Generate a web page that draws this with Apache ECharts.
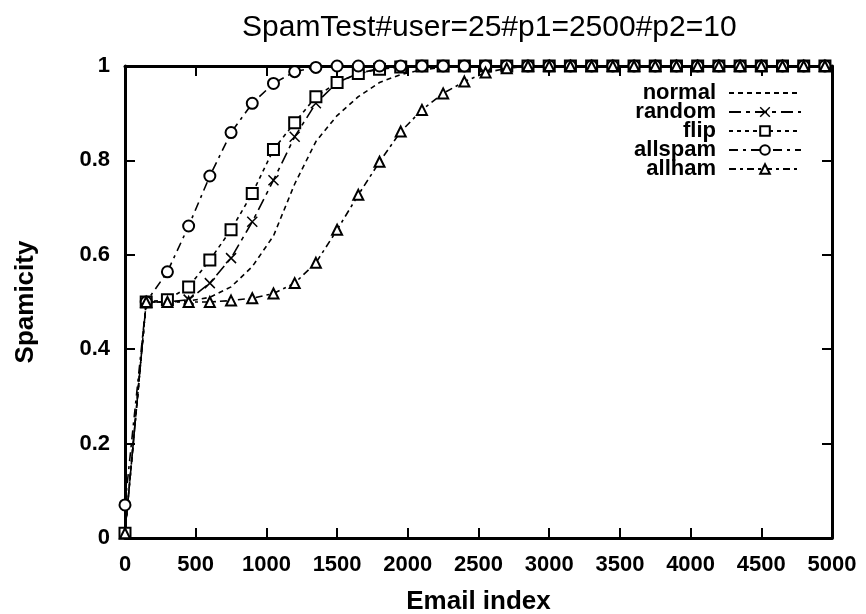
<!DOCTYPE html>
<html>
<head>
<meta charset="utf-8">
<script src="https://cdn.jsdelivr.net/npm/echarts@6/dist/echarts.min.js"></script>
<style>
  html, body { margin: 0; padding: 0; background: #fff; }
  #chart { width: 866px; height: 614px; }
</style>
</head>
<body>
<div id="chart"></div>
<script>
// Email index at which each spamicity sample was taken
const emailIndex = [0, 150, 300, 450, 600, 750, 900, 1050, 1200, 1350, 1500, 1650,
  1800, 1950, 2100, 2250, 2400, 2550, 2700, 2850, 3000, 3150, 3300, 3450, 3600,
  3750, 3900, 4050, 4200, 4350, 4500, 4650, 4800, 4950];

const normal = [0.01, 0.5, 0.5, 0.502, 0.51, 0.532, 0.575, 0.64, 0.75, 0.84, 0.895,
  0.935, 0.965, 0.982, 0.992, 0.997, 1, 1, 1, 1, 1, 1, 1, 1, 1, 1, 1, 1, 1, 1, 1, 1, 1, 1];
const random = [0.01, 0.5, 0.5, 0.505, 0.54, 0.593, 0.67, 0.758, 0.85, 0.921, 0.965,
  0.984, 0.995, 1, 1, 1, 1, 1, 1, 1, 1, 1, 1, 1, 1, 1, 1, 1, 1, 1, 1, 1, 1, 1];
const flip = [0.01, 0.5, 0.505, 0.532, 0.589, 0.653, 0.73, 0.823, 0.88, 0.935, 0.965,
  0.984, 0.993, 0.998, 1, 1, 1, 1, 1, 1, 1, 1, 1, 1, 1, 1, 1, 1, 1, 1, 1, 1, 1, 1];
const allspam = [0.07, 0.5, 0.564, 0.661, 0.767, 0.859, 0.921, 0.963, 0.988, 0.997, 1,
  1, 1, 1, 1, 1, 1, 1, 1, 1, 1, 1, 1, 1, 1, 1, 1, 1, 1, 1, 1, 1, 1, 1];
const allham = [0.01, 0.5, 0.5, 0.5, 0.5, 0.503, 0.508, 0.518, 0.54, 0.583, 0.653,
  0.727, 0.797, 0.861, 0.907, 0.942, 0.967, 0.986, 0.995, 1, 1, 1, 1, 1, 1, 1, 1, 1,
  1, 1, 1, 1, 1, 1];

const FONT = '"Liberation Sans", Arial, Helvetica, sans-serif';
const INK = '#000';

function pairs(values) {
  return emailIndex.map((x, i) => [x, values[i]]);
}

const crossPath = 'path://M0,0L10,10M10,0L0,10';

const seriesDefs = [
  { name: 'normal', data: normal, symbol: 'none', dash: [5, 4] },
  { name: 'random', data: random, symbol: crossPath, size: 10, dash: [12, 5, 4, 5] },
  { name: 'flip', data: flip, symbol: 'emptyRect', size: 11, dash: [4, 4] },
  { name: 'allspam', data: allspam, symbol: 'emptyCircle', size: 11, dash: [9, 5, 3, 5] },
  { name: 'allham', data: allham, symbol: 'emptyTriangle', size: 10, dash: [7, 4, 3, 4] }
];

const legendTops = [82, 101, 120, 139, 158];

function axisLine() { return { onZero: false, lineStyle: { color: INK, width: 3 } }; }
function axisTick() { return { show: true, inside: true, length: 10, lineStyle: { color: INK, width: 2 } }; }
function tickLabel(margin) {
  return {
    margin: margin, color: INK, fontSize: 22, fontWeight: 'bold', fontFamily: FONT,
    formatter: v => String(v)
  };
}

const option = {
  backgroundColor: '#fff',
  animation: false,
  title: {
    text: 'SpamTest#user=25#p1=2500#p2=10',
    left: 237,
    top: 8,
    textStyle: { color: INK, fontSize: 30, fontWeight: 'normal', fontFamily: FONT }
  },
  legend: seriesDefs.map((s, i) => ({
    data: [s.name],
    orient: 'vertical',
    align: 'right',
    right: 64,
    top: legendTops[i],
    itemWidth: 72,
    itemHeight: 12,
    padding: 0,
    selectedMode: false,
    itemStyle: s.symbol === 'none'
      ? { opacity: 0 }
      : { color: INK, borderColor: INK, borderWidth: 1.4 },
    textStyle: { color: INK, fontSize: 22, fontWeight: 'bold', fontFamily: FONT, padding: [0, 8, 0, 0] }
  })),
  grid: { left: 125, right: 34, top: 66, bottom: 76, containLabel: false, outerBoundsMode: 'none' },
  xAxis: [
    {
      type: 'value', min: 0, max: 5000, interval: 500, position: 'bottom',
      axisLine: axisLine(), axisTick: axisTick(), splitLine: { show: false },
      axisLabel: tickLabel(16),
      name: 'Email index', nameLocation: 'middle', nameGap: 51,
      nameTextStyle: { color: INK, fontSize: 26, fontWeight: 'bold', fontFamily: FONT }
    },
    {
      type: 'value', min: 0, max: 5000, interval: 500, position: 'top',
      axisLine: axisLine(), axisTick: axisTick(), splitLine: { show: false },
      axisLabel: { show: false }
    }
  ],
  yAxis: [
    {
      type: 'value', min: 0, max: 1, interval: 0.2, position: 'left',
      axisLine: axisLine(), axisTick: axisTick(), splitLine: { show: false },
      axisLabel: tickLabel(15),
      name: 'Spamicity', nameLocation: 'middle', nameGap: 86,
      nameTextStyle: { color: INK, fontSize: 26, fontWeight: 'bold', fontFamily: FONT }
    },
    {
      type: 'value', min: 0, max: 1, interval: 0.2, position: 'right',
      axisLine: axisLine(), axisTick: axisTick(), splitLine: { show: false },
      axisLabel: { show: false }
    }
  ],
  series: seriesDefs.map(s => ({
    name: s.name,
    type: 'line',
    xAxisIndex: 0,
    yAxisIndex: 0,
    data: pairs(s.data),
    symbol: s.symbol,
    symbolSize: s.size || 0,
    showSymbol: s.symbol !== 'none',
    color: INK,
    lineStyle: { color: INK, width: 1.6, type: s.dash },
    itemStyle: { color: INK, borderColor: INK, borderWidth: 1.5 },
    emphasis: { disabled: true }
  }))
};

const chart = echarts.init(document.getElementById('chart'), null, { renderer: 'canvas' });
chart.setOption(option);
</script>
</body>
</html>
